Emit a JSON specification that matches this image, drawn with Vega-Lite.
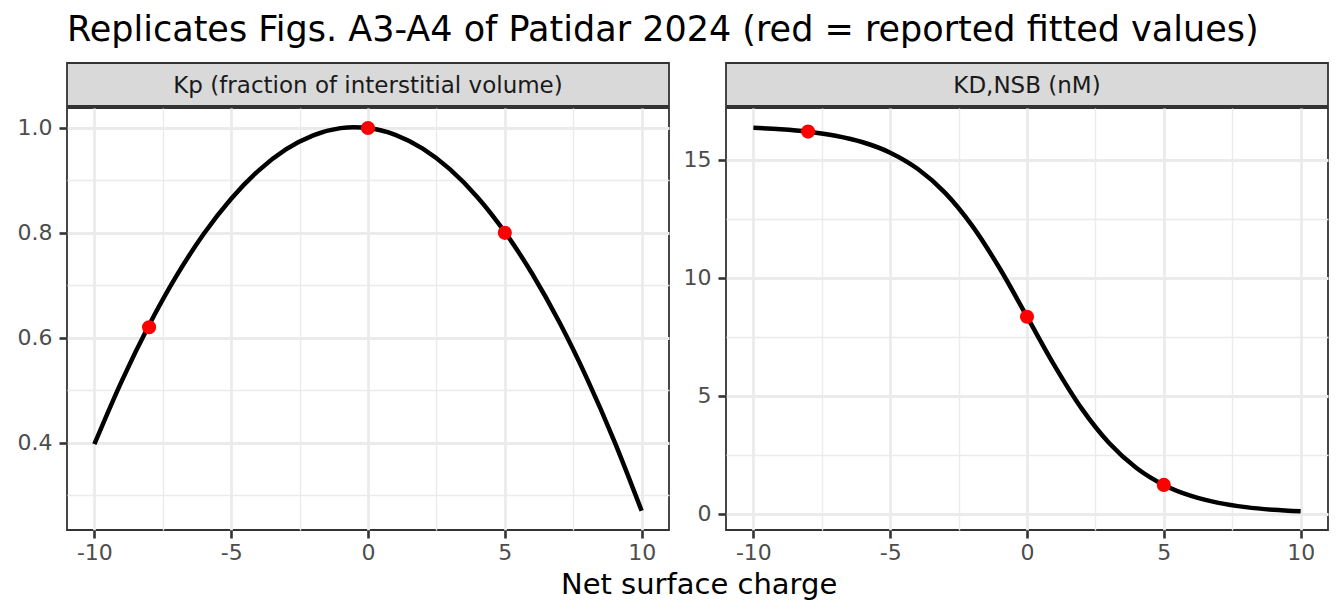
{
  "$schema": "https://vega.github.io/schema/vega-lite/v6.json",
  "padding": {"left": 16, "top": 13, "right": 5, "bottom": 5},
  "background": "white",
  "config": {
    "font": "DejaVu Sans",
    "view": {"stroke": "#333333", "strokeWidth": 1.8},
    "axis": {
      "domain": false,
      "tickColor": "#333333",
      "tickWidth": 2.6,
      "tickSize": 8,
      "labelPadding": 7,
      "labelFontSize": 22,
      "labelColor": "#4D4D4D",
      "gridColor": "#EBEBEB",
      "titleFontWeight": "normal",
      "titleColor": "black"
    },
    "axisX": {"labelPadding": 4}
  },
  "title": {
    "text": "Replicates Figs. A3-A4 of Patidar 2024 (red = reported fitted values)",
    "anchor": "start",
    "frame": "group",
    "fontSize": 35,
    "fontWeight": "normal",
    "color": "black",
    "baseline": "top",
    "offset": 14
  },
  "datasets": {
    "kp_curve": [
      {"charge": -10, "value": 0.397},
      {"charge": -9, "value": 0.5173},
      {"charge": -8, "value": 0.6242},
      {"charge": -7, "value": 0.7179},
      {"charge": -6, "value": 0.7982},
      {"charge": -5, "value": 0.8651},
      {"charge": -4, "value": 0.9188},
      {"charge": -3, "value": 0.9591},
      {"charge": -2, "value": 0.986},
      {"charge": -1, "value": 0.9997},
      {"charge": -0.5, "value": 1.0015},
      {"charge": 0, "value": 1.0},
      {"charge": 1, "value": 0.987},
      {"charge": 2, "value": 0.9606},
      {"charge": 3, "value": 0.921},
      {"charge": 4, "value": 0.868},
      {"charge": 5, "value": 0.8016},
      {"charge": 6, "value": 0.722},
      {"charge": 7, "value": 0.629},
      {"charge": 8, "value": 0.5226},
      {"charge": 9, "value": 0.403},
      {"charge": 10, "value": 0.27}
    ],
    "kp_pts": [
      {"charge": -8, "value": 0.62},
      {"charge": 0, "value": 1.0},
      {"charge": 5, "value": 0.8}
    ],
    "kd_curve": [
      {"charge": -10, "value": 16.364},
      {"charge": -9, "value": 16.301},
      {"charge": -8, "value": 16.197},
      {"charge": -7, "value": 16.025},
      {"charge": -6, "value": 15.748},
      {"charge": -5, "value": 15.307},
      {"charge": -4, "value": 14.623},
      {"charge": -3, "value": 13.611},
      {"charge": -2, "value": 12.202},
      {"charge": -1, "value": 10.406},
      {"charge": 0, "value": 8.356},
      {"charge": 1, "value": 6.291},
      {"charge": 2, "value": 4.455},
      {"charge": 3, "value": 2.997},
      {"charge": 4, "value": 1.939},
      {"charge": 5, "value": 1.221},
      {"charge": 6, "value": 0.755},
      {"charge": 7, "value": 0.461},
      {"charge": 8, "value": 0.28},
      {"charge": 9, "value": 0.169},
      {"charge": 10, "value": 0.102}
    ],
    "kd_pts": [
      {"charge": -8, "value": 16.2},
      {"charge": 0, "value": 8.35},
      {"charge": 5, "value": 1.22}
    ]
  },
  "vconcat": [
    {
      "title": {
        "text": "Net surface charge",
        "orient": "bottom",
        "anchor": "start",
        "frame": "group",
        "fontSize": 29,
        "fontWeight": "normal",
        "color": "black",
        "baseline": "top",
        "offset": 7,
        "dx": 494
      },
      "hconcat": [
        {
          "vconcat": [
            {
              "width": 602,
              "height": 43,
              "view": {"fill": "#D9D9D9", "stroke": "#333333", "strokeWidth": 1.8},
              "data": {"values": [{"label": "Kp (fraction of interstitial volume)"}]},
              "mark": {"type": "text", "fontSize": 23, "color": "#1A1A1A", "baseline": "alphabetic", "dy": 8},
              "encoding": {"text": {"field": "label"}}
            },
            {
              "width": 602,
              "height": 422,
              "layer": [
                {
                  "data": {"name": "kp_curve"},
                  "mark": {"type": "line", "color": "black", "strokeWidth": 4.5, "interpolate": "monotone"},
                  "encoding": {
                    "x": {
                      "field": "charge", "type": "quantitative",
                      "scale": {"domain": [-11, 11], "nice": false, "zero": false},
                      "axis": {
                        "values": [-10, -7.5, -5, -2.5, 0, 2.5, 5, 7.5, 10],
                        "labelExpr": "datum.value % 5 === 0 ? '' + datum.value : ''",
                        "tickOpacity": {"condition": {"test": "datum.value % 5 === 0", "value": 1}, "value": 0},
                        "gridWidth": {"condition": {"test": "datum.value % 5 === 0", "value": 2.8}, "value": 1.4},
                        "title": null
                      }
                    },
                    "y": {
                      "field": "value", "type": "quantitative",
                      "scale": {"domain": [0.2334, 1.0381], "nice": false, "zero": false},
                      "axis": {
                        "title": null,
                        "values": [0.3, 0.4, 0.5, 0.6, 0.7, 0.8, 0.9, 1.0],
                        "format": ".1f",
                        "labelExpr": "round(datum.value * 10) % 2 === 0 ? datum.label : ''",
                        "tickOpacity": {"condition": {"test": "round(datum.value * 10) % 2 === 0", "value": 1}, "value": 0},
                        "gridWidth": {"condition": {"test": "round(datum.value * 10) % 2 === 0", "value": 2.8}, "value": 1.4}
                      }
                    }
                  }
                },
                {
                  "data": {"name": "kp_pts"},
                  "mark": {"type": "point", "filled": true, "color": "#FF0000", "opacity": 1, "size": 200},
                  "encoding": {
                    "x": {"field": "charge", "type": "quantitative"},
                    "y": {"field": "value", "type": "quantitative"}
                  }
                }
              ]
            }
          ],
          "spacing": 0
        },
        {
          "vconcat": [
            {
              "width": 602,
              "height": 43,
              "view": {"fill": "#D9D9D9", "stroke": "#333333", "strokeWidth": 1.8},
              "data": {"values": [{"label": "KD,NSB (nM)"}]},
              "mark": {"type": "text", "fontSize": 23, "color": "#1A1A1A", "baseline": "alphabetic", "dy": 8},
              "encoding": {"text": {"field": "label"}}
            },
            {
              "width": 602,
              "height": 422,
              "layer": [
                {
                  "data": {"name": "kd_curve"},
                  "mark": {"type": "line", "color": "black", "strokeWidth": 4.5, "interpolate": "monotone"},
                  "encoding": {
                    "x": {
                      "field": "charge", "type": "quantitative",
                      "scale": {"domain": [-11, 11], "nice": false, "zero": false},
                      "axis": {
                        "values": [-10, -7.5, -5, -2.5, 0, 2.5, 5, 7.5, 10],
                        "labelExpr": "datum.value % 5 === 0 ? '' + datum.value : ''",
                        "tickOpacity": {"condition": {"test": "datum.value % 5 === 0", "value": 1}, "value": 0},
                        "gridWidth": {"condition": {"test": "datum.value % 5 === 0", "value": 2.8}, "value": 1.4},
                        "title": null
                      }
                    },
                    "y": {
                      "field": "value", "type": "quantitative",
                      "scale": {"domain": [-0.69, 17.2], "nice": false, "zero": false},
                      "axis": {
                        "title": null,
                        "values": [0, 2.5, 5, 7.5, 10, 12.5, 15],
                        "labelExpr": "datum.value % 5 === 0 ? '' + datum.value : ''",
                        "tickOpacity": {"condition": {"test": "datum.value % 5 === 0", "value": 1}, "value": 0},
                        "gridWidth": {"condition": {"test": "datum.value % 5 === 0", "value": 2.8}, "value": 1.4}
                      }
                    }
                  }
                },
                {
                  "data": {"name": "kd_pts"},
                  "mark": {"type": "point", "filled": true, "color": "#FF0000", "opacity": 1, "size": 200},
                  "encoding": {
                    "x": {"field": "charge", "type": "quantitative"},
                    "y": {"field": "value", "type": "quantitative"}
                  }
                }
              ]
            }
          ],
          "spacing": 0
        }
      ],
      "spacing": 12
    }
  ]
}
